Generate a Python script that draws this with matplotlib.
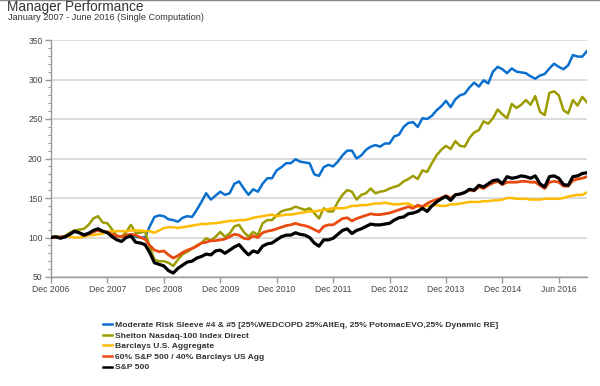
import numpy as np
import matplotlib
matplotlib.use("Agg")
import matplotlib.pyplot as plt
from matplotlib.lines import Line2D
from matplotlib.ticker import MultipleLocator

plt.rcParams['font.family'] = ['Liberation Sans', 'DejaVu Sans']

title = "Manager Performance"
subtitle = "January 2007 - June 2016 (Single Computation)"

series_names = [
    "Moderate Risk Sleeve #4 & #5 [25%WEDCOPD 25%AltEq, 25% PotomacEVO,25% Dynamic RE]",
    "Shelton Nasdaq-100 Index Direct",
    "Barclays U.S. Aggregate",
    "60% S&P 500 / 40% Barclays US Agg",
    "S&P 500",
]

tick_months = [0, 12, 24, 36, 48, 60, 72, 84, 96, 108]
tick_labels = ["Dec 2006", "Dec 2007", "Dec 2008", "Dec 2009", "Dec 2010",
               "Dec 2011", "Dec 2012", "Dec 2013", "Dec 2014", "Jun 2016"]

# monthly values, Dec 2006 .. Jun 2016
moderate = [100, 101, 100, 100, 104, 107, 106, 104, 106, 108, 109, 107, 106, 104, 102, 101,
            103, 103, 101, 100, 100, 114, 126, 128, 127, 123, 122, 120, 125, 127, 126, 135,
            145, 156, 148, 153, 158, 154, 156, 168, 171, 162, 154, 161, 158, 168, 175, 175,
            185, 189, 194, 194, 199, 196, 195, 194, 180, 178, 189, 192, 190, 196, 204, 210,
            210, 200, 204, 211, 215, 217, 215, 219, 219, 228, 230, 240, 245, 246, 240, 251,
            250, 254, 261, 266, 273, 265, 275, 280, 282, 290, 296, 291, 299, 295, 310, 316,
            313, 308, 314, 310, 309, 308, 304, 301, 305, 307, 314, 320, 316, 313, 318, 331,
            329, 329, 336]

shelton = [100, 101, 100, 102, 106, 109, 110, 111, 116, 124, 127, 119, 118, 110, 102, 101,
           107, 116, 106, 106, 108, 88, 72, 70, 70, 68, 64, 72, 79, 82, 86, 90,
           93, 99, 96, 101, 107, 101, 105, 114, 116, 107, 101, 107, 103, 118, 122, 122,
           128, 133, 135, 136, 139, 137, 135, 137, 131, 124, 137, 133, 133, 145, 154, 160,
           158, 148, 154, 156, 162, 156, 158, 159, 162, 164, 166, 171, 174, 178, 174, 185,
           183, 194, 204, 211, 216, 212, 222, 216, 215, 226, 233, 236, 247, 244, 251, 262,
           256, 251, 269, 264, 268, 274, 268, 279, 259, 255, 283, 285, 280, 261, 257, 274,
           267, 278, 271]

barclays = [100, 101, 100, 101, 101, 100, 100, 101, 103, 103, 104, 105, 107, 108, 108, 108,
            108, 109, 109, 109, 108, 108, 106, 109, 112, 113, 113, 112, 113, 114, 115, 116,
            117, 117, 118, 118, 119, 120, 121, 121, 122, 122, 123, 125, 126, 127, 128, 129,
            127, 128, 129, 129, 130, 131, 132, 133, 133, 134, 135, 136, 137, 137, 137, 138,
            140, 140, 141, 141, 142, 143, 143, 144, 143, 142, 142, 143, 143, 140, 139, 139,
            140, 140, 141, 140, 140, 142, 142, 143, 144, 145, 145, 145, 146, 146, 147, 147,
            148, 150, 150, 149, 149, 149, 148, 148, 148, 149, 149, 149, 149, 150, 152, 153,
            154, 154, 157]

blend_60_40 = [100, 100, 101, 101, 104, 108, 106, 103, 105, 107, 109, 108, 107, 104, 102, 101,
               103, 104, 103, 100, 98, 90, 84, 82, 83, 78, 74, 77, 81, 84, 86, 89,
               93, 94, 96, 96, 97, 98, 101, 104, 103, 99, 98, 102, 100, 106, 108, 109,
               111, 113, 115, 116, 118, 116, 115, 113, 110, 107, 114, 116, 116, 120, 124, 125,
               121, 124, 126, 128, 130, 129, 129, 130, 131, 133, 135, 137, 139, 137, 141, 139,
               143, 146, 148, 150, 153, 150, 154, 155, 157, 160, 159, 164, 162, 166, 169, 171,
               167, 170, 170, 170, 171, 171, 170, 170, 166, 162, 170, 171, 170, 165, 165, 172,
               174, 175, 177]

sp500 = [100, 101, 99, 101, 104, 108, 106, 103, 105, 109, 111, 108, 106, 101, 97, 95,
         100, 102, 94, 93, 91, 81, 68, 66, 64, 58, 55, 61, 65, 69, 70, 74,
         76, 79, 78, 83, 84, 80, 84, 88, 91, 84, 78, 83, 81, 89, 92, 93,
         97, 101, 103, 103, 106, 104, 103, 100, 93, 89, 97, 97, 99, 104, 109, 111,
         105, 109, 111, 114, 117, 116, 116, 117, 118, 122, 125, 126, 130, 131, 133, 137,
         133, 140, 145, 149, 152, 147, 154, 155, 157, 161, 160, 166, 164, 168, 172, 173,
         168, 177, 175, 176, 178, 177, 175, 178, 168, 164, 177, 178, 175, 167, 166, 177,
         178, 181, 182]

colors = ["#0a6fcf", "#9c9c00", "#ffbb00", "#e84a10", "#000000"]
widths = [1.8, 1.8, 1.8, 2.0, 2.3]
data = [moderate, shelton, barclays, blend_60_40, sp500]

fig = plt.figure(figsize=(6.0, 3.86), dpi=100)
ax = fig.add_axes([51/600, 1 - 277/386, (587 - 51)/600, (277 - 40)/386])

for vals, c, lw in zip(data, colors, widths):
    x = np.arange(len(vals))
    ax.plot(x, vals, color=c, lw=lw, solid_joinstyle='round', zorder=3)

ax.set_xlim(0, len(sp500) - 1)
ax.set_ylim(50, 350)
ax.yaxis.set_major_locator(MultipleLocator(50))
ax.yaxis.set_minor_locator(MultipleLocator(10))
ax.set_xticks(tick_months)
ax.set_xticklabels(tick_labels)

ax.grid(axis='y', which='major', color='#d9d9d9', lw=1.3, zorder=0)
for s in ['top', 'right']:
    ax.spines[s].set_visible(False)
for s in ['left', 'bottom']:
    ax.spines[s].set_color('#999999')
    ax.spines[s].set_linewidth(1.0)

ax.tick_params(axis='both', which='major', labelsize=6.2, colors='#999999',
               labelcolor='#444444', length=4, width=1.0, pad=2)
ax.tick_params(axis='y', which='minor', length=2.2, width=0.8, colors='#999999')

fig.text(7/600, 1 - 7/386, title, fontsize=9.8, color='#333333', va='center', ha='left')
fig.text(8/600, 1 - 18/386, subtitle, fontsize=6.6, color='#333333', va='center', ha='left')
fig.add_artist(Line2D([0, 1], [0.999, 0.999], color='#888888', lw=1.0,
                      transform=fig.transFigure))

handles = [Line2D([0], [0], color=c, lw=1.8) for c in colors]
leg = fig.legend(handles, series_names, loc='upper left',
                 bbox_to_anchor=(103/600, 1 - 321/386), frameon=False,
                 handlelength=1.1, handletextpad=0.3, labelspacing=0.32,
                 borderpad=0, borderaxespad=0,
                 prop={'size': 6.1, 'weight': 'bold'})
for t in leg.get_texts():
    t.set_color('#333333')

fig.savefig("out.png", dpi=100)
